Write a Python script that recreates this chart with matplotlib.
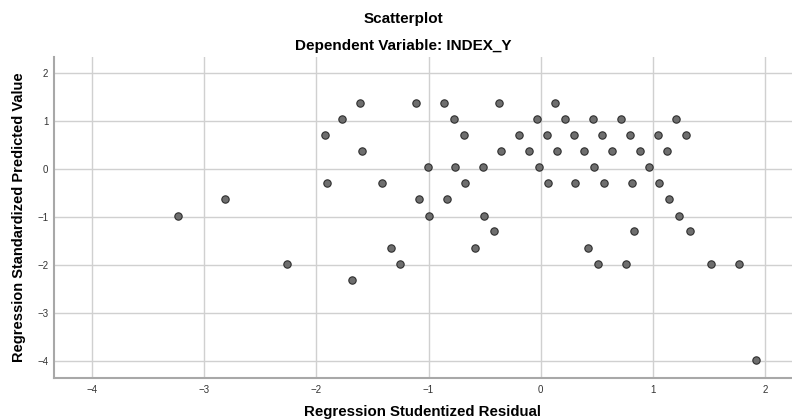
import matplotlib.pyplot as plt

plt.rcParams["font.family"] = ["Liberation Sans", "DejaVu Sans"]

# === Data ===
# each row of points shares one predicted value
row_y = [1.37, 1.03, 0.70, 0.37, 0.03, -0.30, -0.63, -0.97, -1.30, -1.64, -1.97, -2.31, -3.98]
row_x = [
    [-1.615, -1.113, -0.866, -0.370, 0.130],
    [-1.770, -0.775, -0.033, 0.216, 0.463, 0.712, 1.208],
    [-1.927, -0.686, -0.190, 0.056, 0.300, 0.549, 0.795, 1.045, 1.291],
    [-1.591, -0.351, -0.104, 0.142, 0.388, 0.635, 0.882, 1.127],
    [-1.004, -0.760, -0.514, -0.018, 0.475, 0.967],
    [-1.906, -1.413, -0.671, 0.068, 0.310, 0.561, 0.810, 1.056],
    [-2.811, -1.081, -0.834, 1.142],
    [-3.230, -0.997, -0.505, 1.231],
    [-0.419, 0.828, 1.327],
    [-1.333, -0.582, 0.421],
    [-2.259, -1.253, 0.513, 0.762, 1.519, 1.772],
    [-1.680],
    [1.920],
]
x_ticks = [-4, -3, -2, -1, 0, 1, 2]
y_ticks = [-4, -3, -2, -1, 0, 1, 2]

resid = [x for xs in row_x for x in xs]
pred = [y for y, xs in zip(row_y, row_x) for _ in xs]

# === Plot ===
fig = plt.figure(figsize=(7.92, 4.2), dpi=100)
ax = fig.add_axes([0.068, 0.1007, 0.932, 0.7643])

ax.scatter(resid, pred, s=28, color="#6e6e6e", edgecolor="#2e2e2e", linewidth=0.8, zorder=3)

ax.set_xlim(-4.34, 2.24)
ax.set_ylim(-4.34, 2.33)
ax.set_xticks(x_ticks)
ax.set_yticks(y_ticks)
ax.grid(True, color="#d0d0d0", linewidth=1.0)
ax.set_axisbelow(True)

for s in ["top", "right"]:
    ax.spines[s].set_visible(False)
for s in ["left", "bottom"]:
    ax.spines[s].set_color("#a8a8a8")
    ax.spines[s].set_linewidth(1.5)

ax.tick_params(length=0, labelsize=7, colors="#333333")
ax.tick_params(axis="x", pad=5)
ax.tick_params(axis="y", pad=4)

ax.set_xlabel("Regression Studentized Residual", fontsize=10.8, fontweight="bold")
ax.xaxis.set_label_coords(0.5, -0.108)
ax.xaxis.label.set_va("center")
ax.set_ylabel("Regression Standardized Predicted Value", fontsize=10.5, fontweight="bold", labelpad=8)

fig.text(0.509, 0.955, "Scatterplot", ha="center", va="center", fontsize=11, fontweight="bold")
fig.text(0.509, 0.89, "Dependent Variable: INDEX_Y", ha="center", va="center", fontsize=11, fontweight="bold")

plt.savefig("out.png", dpi=100)
